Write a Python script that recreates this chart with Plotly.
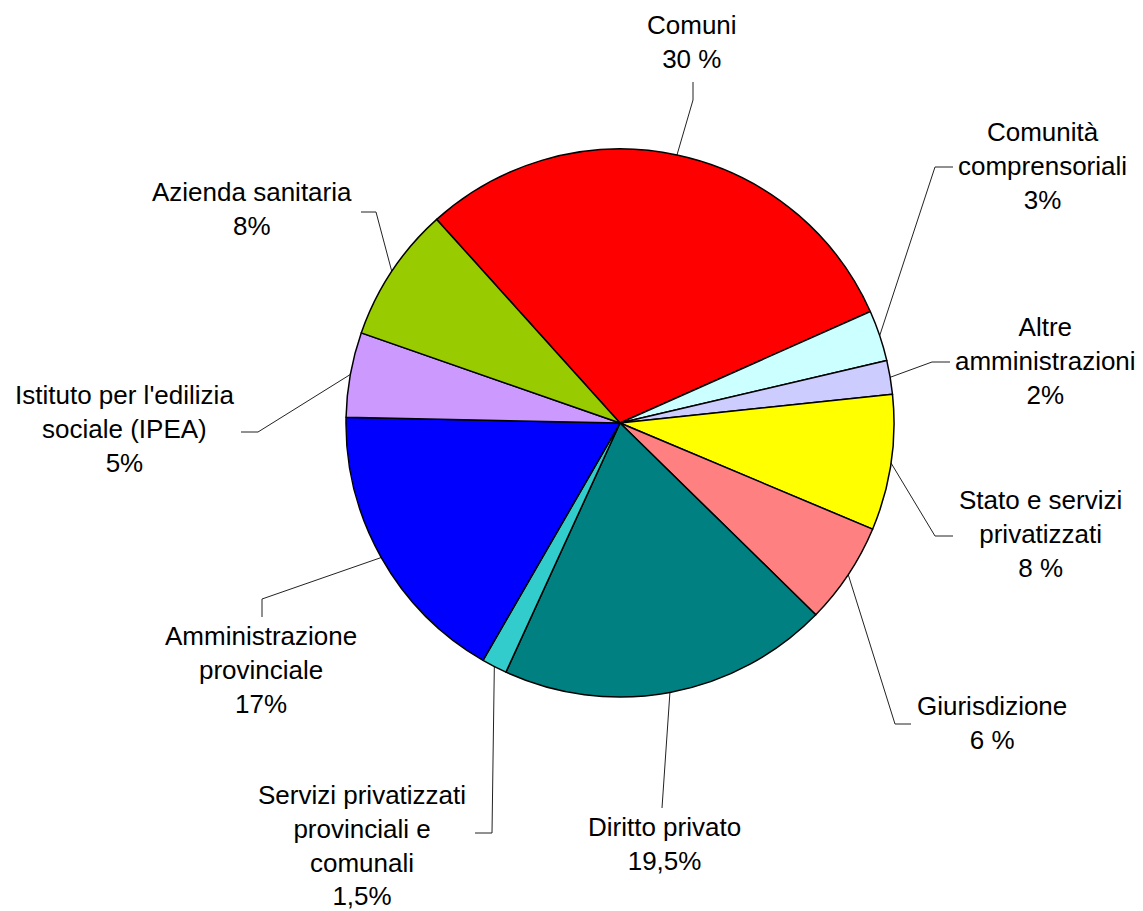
import math
import plotly.graph_objects as go

# ---------------- data ----------------
categories = [
    "Comuni", "Comunità comprensoriali", "Altre amministrazioni",
    "Stato e servizi privatizzati", "Giurisdizione", "Diritto privato",
    "Servizi privatizzati provinciali e comunali", "Amministrazione provinciale",
    "Istituto per l'edilizia sociale (IPEA)", "Azienda sanitaria",
]
values = [30, 3, 2, 8, 6, 19.5, 1.5, 17, 5, 8]
label_lines = [
    "Comuni", "Comunità<br>comprensoriali", "Altre<br>amministrazioni",
    "Stato e servizi<br>privatizzati", "Giurisdizione", "Diritto privato",
    "Servizi privatizzati<br>provinciali e<br>comunali", "Amministrazione<br>provinciale",
    "Istituto per l'edilizia<br>sociale (IPEA)", "Azienda sanitaria",
]
pct_labels = ["30 %", "3%", "2%", "8 %", "6 %", "19,5%", "1,5%", "17%", "5%", "8%"]

# ---------------- styles / layout ----------------
colors = ["#FF0000", "#CCFFFF", "#CCCCFF", "#FFFF00", "#FF8080",
          "#008080", "#33CCCC", "#0000FF", "#CC99FF", "#99CC00"]
W, H = 1143, 911
CX, CY, R = 620, 423, 274
ROTATION = -42
FONT = dict(family="Liberation Sans, Arial, sans-serif", size=26, color="black")

# label centre positions (pixels), leader elbow and end positions (pixels)
label_pos = [(692, 42), (1042, 166), (1045, 361), (1040, 534), (992, 723),
             (664, 844), (362, 845), (261, 670), (124, 429), (252, 209)]
elbow_pos = [(693, 100), (935, 167), (932, 362), (935, 536), (895, 724),
             (662, 808), (492, 833), (262, 599), (258, 432), (376, 212)]
end_pos = [(693, 82), (953, 167), (950, 362), (953, 536), (911, 724),
           (662, 808), (475, 833), (262, 617), (241, 432), (361, 212)]

fig = go.Figure()

fig.add_trace(go.Pie(
    labels=categories, values=values, sort=False, direction="clockwise",
    rotation=ROTATION, textinfo="none", hoverinfo="label+percent",
    marker=dict(colors=colors, line=dict(color="black", width=1.5)),
    domain=dict(x=[(CX - R) / W, (CX + R) / W],
                y=[(H - CY - R) / H, (H - CY + R) / H]),
    showlegend=False,
))

# leader lines: start at slice mid-angle on the rim
total = sum(values)
cum = 0
for i, v in enumerate(values):
    a = math.radians(ROTATION + (cum + v / 2) / total * 360)
    cum += v
    sx = CX + R * math.sin(a)
    sy = CY - R * math.cos(a)
    ex, ey = elbow_pos[i]
    tx, ty = end_pos[i]
    fig.add_trace(go.Scatter(
        x=[sx, ex, tx], y=[sy, ey, ty], mode="lines",
        line=dict(color="#222222", width=1), hoverinfo="skip", showlegend=False,
    ))
    fig.add_annotation(
        x=label_pos[i][0], y=label_pos[i][1], xref="x", yref="y",
        text=label_lines[i] + "<br>" + pct_labels[i], showarrow=False,
        xanchor="center", yanchor="middle", align="center", font=FONT,
    )

fig.update_layout(
    width=W, height=H, margin=dict(l=0, r=0, t=0, b=0),
    paper_bgcolor="white", plot_bgcolor="white",
    xaxis=dict(range=[0, W], visible=False, fixedrange=True),
    yaxis=dict(range=[H, 0], visible=False, fixedrange=True),
)

fig.write_html("out.html")
